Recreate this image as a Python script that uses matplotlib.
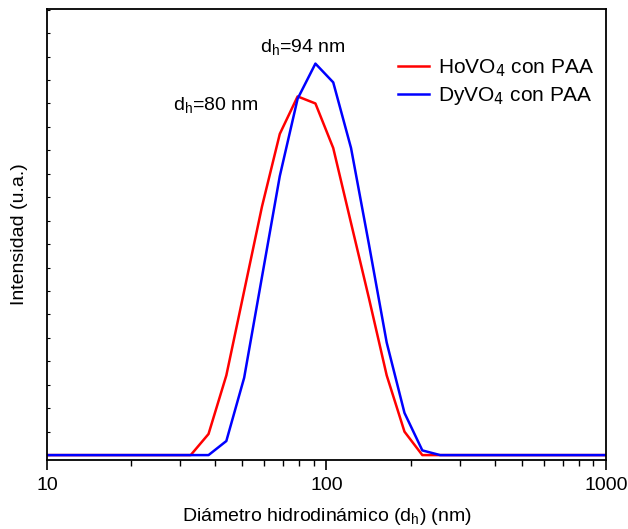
import numpy as np
import matplotlib.pyplot as plt
from matplotlib.ticker import LogLocator, NullFormatter, MultipleLocator

plt.rcParams['font.family'] = ['Liberation Sans', 'DejaVu Sans']

# DLS size bins (nm)
diam = [8.721, 10.1, 11.7, 13.54, 15.69, 18.17, 21.04, 24.36, 28.21, 32.67,
        37.84, 43.82, 50.75, 58.77, 68.06, 78.82, 91.28, 105.7, 122.4, 141.8,
        164.2, 190.1, 220.2, 255.0, 295.3, 342.0, 396.1, 458.7, 531.2, 615.1,
        712.4, 825.0, 955.4, 1106.0]

# intensity (%)
ho_vals = [0, 0, 0, 0, 0, 0, 0, 0, 0, 0,
           0.9, 3.4, 7.0, 10.6, 13.7, 15.3, 15.0, 13.1, 9.9, 6.7,
           3.4, 1.0, 0, 0, 0, 0, 0, 0, 0, 0,
           0, 0, 0, 0]
dy_vals = [0, 0, 0, 0, 0, 0, 0, 0, 0, 0,
           0, 0.6, 3.3, 7.6, 11.9, 15.2, 16.7, 15.9, 13.1, 9.0,
           4.8, 1.8, 0.2, 0, 0, 0, 0, 0, 0, 0,
           0, 0, 0, 0]

fig = plt.figure(figsize=(6.28, 5.29), dpi=100)
ax = fig.add_axes([0.0748, 0.1304, 0.8902, 0.8526])

ax.plot(diam, ho_vals, color='#ff0000', lw=1.8, label='HoVO$_4$ con PAA')
ax.plot(diam, dy_vals, color='#0000ff', lw=1.8, label='DyVO$_4$ con PAA')

ax.set_xscale('log')
ax.set_xlim(10, 1000)
ax.set_ylim(-0.21, 19.03)

ax.xaxis.set_minor_locator(LogLocator(base=10, subs=np.arange(2, 10)))
ax.xaxis.set_minor_formatter(NullFormatter())
ax.set_xticks([10, 100, 1000])
ax.set_xticklabels(['10', '100', '1000'])
ax.tick_params(axis='x', which='major', direction='out', length=7, width=1.2, labelsize=14, pad=5)
ax.tick_params(axis='x', which='minor', direction='out', length=4, width=1.0)

ax.yaxis.set_major_locator(MultipleLocator(1))
ax.tick_params(axis='y', which='major', direction='in', length=2, width=0.8, labelleft=False)

for s in ax.spines.values():
    s.set_linewidth(1.3)

ax.set_xlabel('Diámetro hidrodinámico (d$_\\mathregular{h}$) (nm)', fontsize=14, labelpad=9)
ax.set_ylabel('Intensidad (u.a.)', fontsize=14, labelpad=14)

ax.text(82, 16.95, 'd$_\\mathregular{h}$=94 nm', fontsize=14, ha='center', va='bottom')
ax.text(40, 14.45, 'd$_\\mathregular{h}$=80 nm', fontsize=14, ha='center', va='bottom')

leg = ax.legend(loc='upper right', frameon=False, fontsize=15, handlelength=1.5,
                handletextpad=0.4, labelspacing=0.3, borderaxespad=0.2,
                bbox_to_anchor=(1.0, 0.92))

fig.savefig('out.png', dpi=100)
